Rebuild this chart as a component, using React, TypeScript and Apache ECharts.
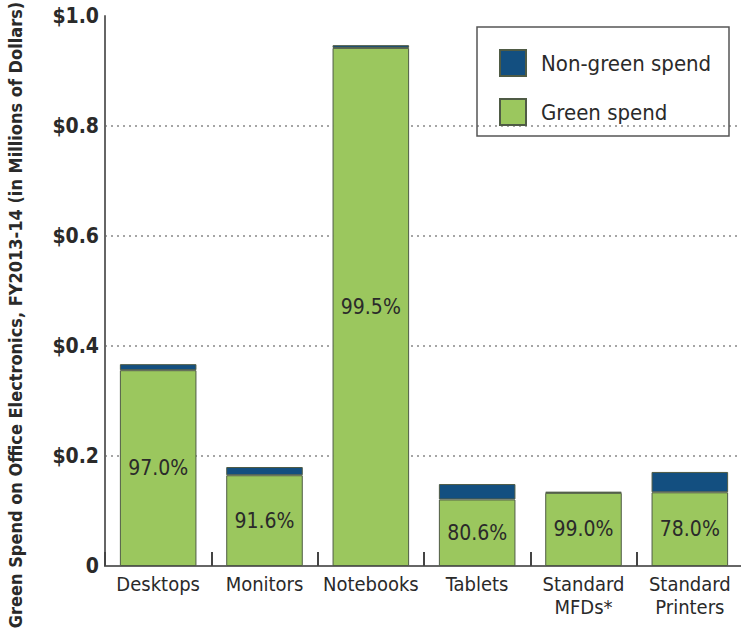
import React, { useEffect, useRef } from "react";
import * as echarts from "echarts";

const categories = ["Desktops", "Monitors", "Notebooks", "Tablets", "Standard\nMFDs*", "Standard\nPrinters"];
const greenSpend = [0.356, 0.165, 0.942, 0.121, 0.133, 0.134];
const nonGreenSpend = [0.011, 0.015, 0.005, 0.028, 0.002, 0.037];
const pctLabels = ["97.0%", "91.6%", "99.5%", "80.6%", "99.0%", "78.0%"];
const yTickLabels = ["0", "$0.2", "$0.4", "$0.6", "$0.8", "$1.0"];
const yTitle = "Green Spend on Office Electronics, FY2013-14 (in Millions of Dollars)";

const FONT = "'DejaVu Sans Condensed', 'Liberation Sans Narrow', 'Roboto', sans-serif";

export default function App() {
  const ref = useRef<HTMLDivElement>(null);
  useEffect(() => {
    if (!ref.current) return;
    const chart = echarts.init(ref.current, null, { renderer: "svg" });
    chart.setOption({
      animation: false,
      backgroundColor: "#ffffff",
      textStyle: { fontFamily: FONT },
      grid: { left: 105, top: 16, bottom: 64, right: -2, containLabel: false, outerBoundsMode: "none" },
      legend: {
        orient: "vertical",
        left: 494,
        top: 44,
        data: ["Non-green spend", "Green spend"],
        itemWidth: 26,
        itemHeight: 26,
        itemGap: 21,
        icon: "rect",
        textStyle: { fontFamily: FONT, fontSize: 22, color: "#2a2a2a", padding: [0, 0, 0, 10] },
      },
      graphic: [
        {
          type: "rect",
          shape: { x: 477, y: 27, width: 252, height: 109 },
          style: { fill: "none", stroke: "#555", lineWidth: 1.5 },
          z: 10,
        },
        {
          type: "text",
          x: 15,
          y: 315,
          rotation: Math.PI / 2,
          style: {
            text: yTitle,
            fontFamily: FONT,
            fontSize: 18,
            fontWeight: "bold",
            fill: "#2a2a2a",
            align: "center",
            verticalAlign: "middle",
          },
        },
      ],
      xAxis: {
        type: "category",
        data: categories,
        axisLine: { lineStyle: { color: "#666", width: 2 } },
        axisTick: { show: true, inside: true, length: 14, lineStyle: { color: "#444", width: 2 } },
        axisLabel: { interval: 0, fontFamily: FONT, fontSize: 20, color: "#2a2a2a", margin: 6, lineHeight: 23 },
      },
      yAxis: {
        type: "value",
        min: 0,
        max: 1,
        interval: 0.2,
        axisLine: { show: true, lineStyle: { color: "#666", width: 2 } },
        axisTick: { show: false },
        axisLabel: {
          fontFamily: FONT,
          fontSize: 21,
          fontWeight: "bold",
          color: "#2a2a2a",
          margin: 6,
          formatter: (_v: number, i: number) => yTickLabels[i],
        },
        splitLine: {
          show: true,
          showMaxLine: false,
          lineStyle: { color: "#888", type: [2, 4], width: 1.5 },
        },
      },
      series: [
        {
          name: "Green spend",
          type: "bar",
          stack: "total",
          data: greenSpend,
          barWidth: "72%",
          itemStyle: { color: "#9bc75e", borderColor: "#4f5b45", borderWidth: 1 },
          label: {
            show: true,
            position: "inside",
            fontFamily: FONT,
            fontSize: 21,
            color: "#2a2a2a",
            formatter: (p: any) => pctLabels[p.dataIndex],
          },
        },
        {
          name: "Non-green spend",
          type: "bar",
          stack: "total",
          data: nonGreenSpend,
          barWidth: "72%",
          itemStyle: { color: "#134f80", borderColor: "#4f5b45", borderWidth: 1 },
        },
      ],
    });
    return () => chart.dispose();
  }, []);
  return (
    <div
      ref={ref}
      style={{ position: "absolute", left: 0, top: 0, width: 741, height: 630 }}
    />
  );
}
